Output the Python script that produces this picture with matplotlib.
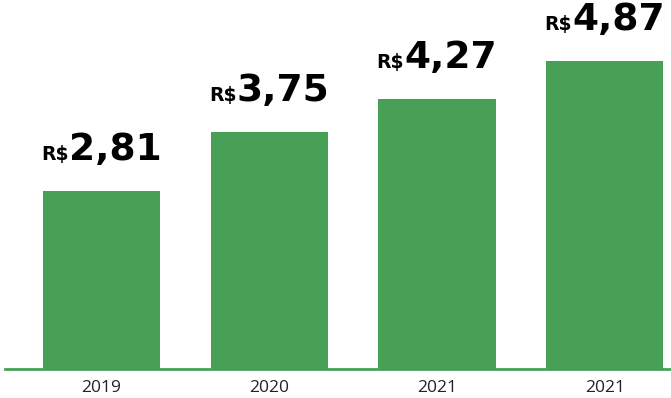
import matplotlib
matplotlib.use("Agg")
import matplotlib.pyplot as plt
from matplotlib.transforms import offset_copy

years = ["2019", "2020", "2021", "2021"]
values = [2.81, 3.75, 4.27, 4.87]
labels = ["2,81", "3,75", "4,27", "4,87"]

green = "#48a057"

fig = plt.figure(figsize=(6.71, 3.98), dpi=100)
ax = fig.add_axes([5 / 671, 29 / 398, 666 / 671, 369 / 398])

x = list(range(len(values)))
ax.bar(x, values, width=0.70, color=green, zorder=2)
ax.set_xlim(-0.575, 3.395)
ax.set_ylim(0, 5.84)

for s in ["top", "right", "left"]:
    ax.spines[s].set_visible(False)
ax.spines["bottom"].set_color(green)
ax.spines["bottom"].set_linewidth(2)
ax.set_yticks([])
ax.set_xticks(x)
ax.set_xticklabels(years, fontsize=12.5, family="Open Sans", color="#222222")
ax.tick_params(axis="x", length=0, pad=8)

fig.canvas.draw()
renderer = fig.canvas.get_renderer()

gap = 0.5
for xi, v, lab in zip(x, values, labels):
    num = ax.text(xi, v, lab, fontsize=27, fontweight="bold", family="DejaVu Sans",
                  ha="left", va="baseline", color="black")
    cur = ax.text(xi, v, "R$", fontsize=13.5, fontweight="bold", family="DejaVu Sans",
                  ha="right", va="baseline", color="black")
    wn = num.get_window_extent(renderer).width
    wc = cur.get_window_extent(renderer).width
    total = wn + wc + gap
    left = -total / 2
    cur.set_transform(offset_copy(ax.transData, fig=fig, x=left + wc, y=31, units="dots"))
    num.set_transform(offset_copy(ax.transData, fig=fig, x=left + wc + gap, y=31, units="dots"))

fig.savefig("out.png", dpi=100)
